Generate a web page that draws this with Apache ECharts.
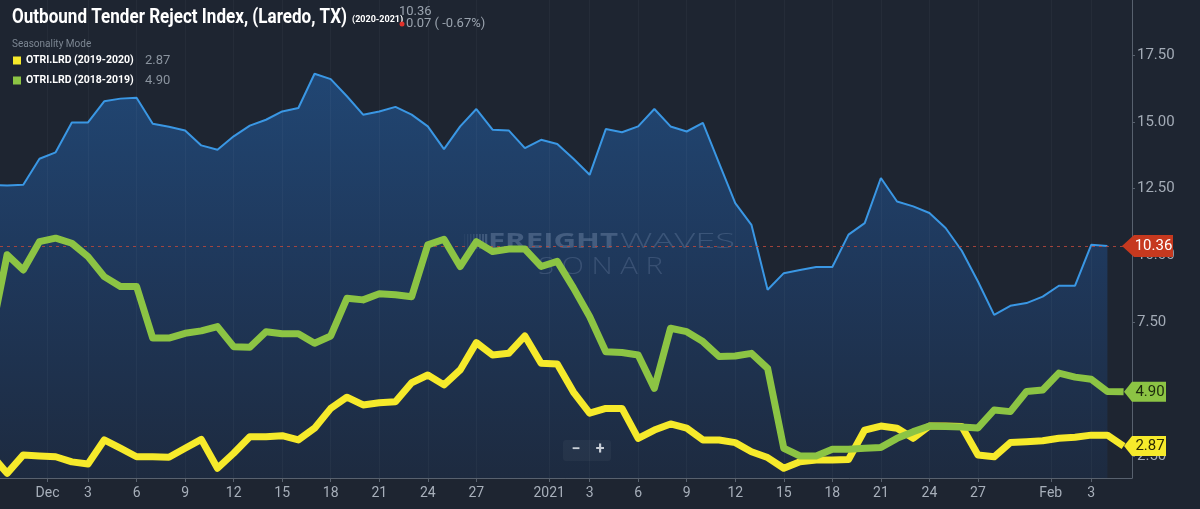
<!DOCTYPE html>
<html lang="en">
<head>
<meta charset="UTF-8">
<title>Outbound Tender Reject Index, (Laredo, TX)</title>
<script src="https://cdn.jsdelivr.net/npm/echarts@6/dist/echarts.min.js"></script>
<style>
	html,body{margin:0;padding:0;background:#1e2531;}
	#main{width:1200px;height:509px;}
</style>
</head>
<body>
<div id="main"></div>
<script type="text/javascript">
// day numbers count from Dec 1 (= 0); the first value is Nov 27
var firstDay = -4;
var tickDays = [-0.5, 2, 5, 8, 11, 14, 17, 20, 23, 26, 30.5, 33, 36, 39, 42, 45, 48, 51, 54, 57, 61.5, 64];
var tickLabels = ['Dec', '3', '6', '9', '12', '15', '18', '21', '24', '27', '2021', '3', '6', '9', '12', '15', '18', '21', '24', '27', 'Feb', '3'];
var yTicks = [2.5, 5, 7.5, 10, 12.5, 15, 17.5];

// OTRI.LRD 2020-2021 (area)
var otri2021 = [12.64, 12.62, 12.65, 13.62, 13.86, 14.98, 14.98, 15.77, 15.87, 15.90,
	14.93, 14.82, 14.68, 14.12, 13.96, 14.46, 14.86, 15.08, 15.39, 15.52,
	16.80, 16.60, 15.96, 15.27, 15.39, 15.56, 15.27, 14.83, 13.98, 14.83,
	15.48, 14.71, 14.68, 14.02, 14.33, 14.17, 13.62, 13.02, 14.73, 14.61,
	14.83, 15.48, 14.83, 14.64, 14.96, 13.46, 11.96, 11.15, 8.72, 9.34,
	9.46, 9.57, 9.57, 10.78, 11.21, 12.90, 12.02, 11.84, 11.59, 11.03,
	10.18, 9.03, 7.78, 8.12, 8.22, 8.46, 8.87, 8.87, 10.40, 10.36];
// OTRI.LRD 2019-2020 (yellow)
var otri1920 = [2.56, 1.85, 2.54, 2.50, 2.47, 2.28, 2.20, 3.10, 2.79, 2.47,
	2.47, 2.45, 2.79, 3.12, 2.04, 2.60, 3.22, 3.22, 3.26, 3.10,
	3.54, 4.28, 4.70, 4.41, 4.49, 4.53, 5.24, 5.53, 5.16, 5.72,
	6.74, 6.28, 6.34, 6.99, 5.97, 5.94, 4.89, 4.10, 4.28, 4.28,
	3.16, 3.47, 3.70, 3.54, 3.10, 3.10, 3.00, 2.66, 2.44, 2.04,
	2.28, 2.35, 2.35, 2.37, 3.47, 3.62, 3.54, 3.16, 3.62, 3.62,
	3.60, 2.54, 2.47, 3.00, 3.03, 3.07, 3.16, 3.20, 3.28, 3.28, 2.87];
// OTRI.LRD 2018-2019 (green)
var otri1819 = [7.00, 10.03, 9.46, 10.52, 10.65, 10.46, 9.96, 9.21, 8.84, 8.84,
	6.91, 6.91, 7.09, 7.18, 7.34, 6.59, 6.57, 7.15, 7.07, 7.07,
	6.72, 6.99, 8.40, 8.34, 8.57, 8.53, 8.46, 10.40, 10.61, 9.59,
	10.52, 10.15, 10.24, 10.24, 9.59, 9.78, 8.79, 7.72, 6.40, 6.37,
	6.28, 5.03, 7.28, 7.15, 6.78, 6.22, 6.24, 6.34, 5.78, 2.79,
	2.50, 2.50, 2.75, 2.75, 2.79, 2.82, 3.16, 3.41, 3.62, 3.60,
	3.58, 3.55, 4.22, 4.16, 4.91, 4.97, 5.60, 5.45, 5.37, 4.91, 4.90];

var name1920 = 'OTRI.LRD (2019-2020)';
var name1819 = 'OTRI.LRD (2018-2019)';
var lastVal = {};
lastVal[name1920] = '2.87';
lastVal[name1819] = '4.90';

function toPairs(arr){
	return arr.map(function(v, i){ return [firstDay + i, v]; });
}

var myChart = echarts.init(document.getElementById('main'), null, {renderer: 'canvas'});
var xMin = -3.44, xMax = 66.52;

var option = {
	backgroundColor: '#1e2531',
	animation: false,
	textStyle: {fontFamily: 'Roboto'},
	grid: {left: 0, right: 68, top: 0, bottom: 31},
	legend: {
		orient: 'vertical',
		left: 13,
		top: 54,
		padding: 0,
		itemWidth: 8,
		itemHeight: 8,
		itemGap: 7,
		icon: 'rect',
		selectedMode: false,
		data: [name1920, name1819],
		formatter: function(name){ return '{n|' + name + '}{v|' + lastVal[name] + '}'; },
		textStyle: {
			rich: {
				n: {color: '#ffffff', fontWeight: 'bold', fontSize: 10.5, width: 119, fontFamily: 'Roboto'},
				v: {color: '#8a939e', fontSize: 13, fontFamily: 'Roboto'}
			}
		}
	},
	xAxis: {
		type: 'value',
		min: xMin,
		max: xMax,
		axisLine: {show: true, onZero: false, lineStyle: {color: '#58616e', width: 1}},
		axisTick: {show: true, customValues: tickDays, length: 4, lineStyle: {color: '#58616e'}},
		axisLabel: {
			customValues: tickDays,
			color: '#a7afba',
			fontSize: 14,
			margin: 8,
			formatter: function(v){ var i = tickDays.indexOf(v); return i < 0 ? '' : tickLabels[i]; }
		},
		splitLine: {show: false}
	},
	yAxis: {
		type: 'value',
		position: 'right',
		min: 1.676,
		max: 19.56,
		axisLine: {show: true, onZero: false, lineStyle: {color: '#58616e', width: 1}},
		axisTick: {show: true, customValues: yTicks, length: 3, lineStyle: {color: '#58616e'}},
		axisLabel: {
			customValues: yTicks,
			color: '#a3abb6',
			fontSize: 15,
			margin: 5,
			formatter: function(v){ return v.toFixed(2); }
		},
		splitLine: {show: false}
	},
	series: [{
		name: 'OTRI.LRD (2020-2021)',
		type: 'line',
		data: toPairs(otri2021),
		symbol: 'none',
		z: 2,
		lineStyle: {color: '#3a97e4', width: 2},
		areaStyle: {
			color: new echarts.graphic.LinearGradient(0, 0, 0, 1, [
				{offset: 0, color: '#22548f'},
				{offset: 0.5, color: '#1f3f6b'},
				{offset: 1, color: '#1d2d46'}
			])
		},
		markLine: {
			silent: true,
			symbol: ['none', 'none'],
			label: {show: false},
			data: [
				{yAxis: 10.36, lineStyle: {color: '#b9483c', type: [3, 4], width: 1, opacity: 0.85}}
			].concat(tickDays.map(function(d){
				return {xAxis: d, lineStyle: {color: 'rgba(255,255,255,0.035)', type: 'solid', width: 1}};
			}))
		}
	}, {
		name: name1920,
		type: 'line',
		data: toPairs(otri1920),
		symbol: 'none',
		z: 5,
		color: '#f6ea2b',
		lineStyle: {color: '#f6ea2b', width: 7, join: 'round'}
	}, {
		name: name1819,
		type: 'line',
		data: toPairs(otri1819),
		symbol: 'none',
		z: 6,
		color: '#8cc444',
		lineStyle: {color: '#8cc444', width: 7, join: 'round'}
	}]
};
myChart.setOption(option);

// header, watermark, zoom buttons and price tags
function fitScale(text, font, w){
	var c = document.createElement('canvas').getContext('2d');
	c.font = font;
	return w / c.measureText(text).width;
}
var titleText = 'Outbound Tender Reject Index, (Laredo, TX)';
var titleFont = 'bold 21px Roboto';
var wmBold = 'bold 21px "Open Sans"';
var wmThin = '300 21px "Open Sans"';
var wmSonar = '300 24px "Open Sans"';

var axisX = myChart.convertToPixel({xAxisIndex: 0}, xMax);
function tag(value, text, fill, color, big){
	var y = myChart.convertToPixel({yAxisIndex: 0}, value);
	var tip = big ? axisX - 10 : axisX - 8;
	var neck = big ? axisX + 2 : axisX;
	var right = big ? axisX + 41 : axisX + 34;
	var h = big ? 11 : 10;
	return [{
		type: 'polygon', z: 20,
		shape: {points: [[tip, y], [neck, y - h], [right, y - h], [right, y + h], [neck, y + h]]},
		style: {fill: fill}
	}, {
		type: 'text', z: 21,
		x: (neck + right) / 2 + (big ? 0 : 1), y: y,
		style: {text: text, fill: color, font: '15px Roboto', align: 'center', verticalAlign: 'middle'}
	}];
}

var graphics = [
	{type: 'text', x: 12, y: 18, scaleX: fitScale(titleText, titleFont, 335), z: 10,
		style: {text: titleText, font: titleFont, fill: '#ffffff', verticalAlign: 'middle'}},
	{type: 'text', x: 352, y: 20, z: 10,
		style: {text: '(2020-2021)', font: 'bold 9px Roboto', fill: '#ffffff', verticalAlign: 'middle'}},
	{type: 'text', x: 399, y: 12, z: 10,
		style: {text: '10.36', font: '13px Roboto', fill: '#9aa3ae', verticalAlign: 'middle'}},
	{type: 'circle', z: 10, shape: {cx: 402, cy: 24, r: 2.5}, style: {fill: '#e0322b'}},
	{type: 'text', x: 406, y: 24, z: 10,
		style: {text: '0.07 ( -0.67%)', font: '13px Roboto', fill: '#9aa3ae', verticalAlign: 'middle'}},
	{type: 'text', x: 12, y: 44, z: 10,
		style: {text: 'Seasonality Mode', font: '10px Roboto', fill: '#7c8692', verticalAlign: 'middle'}},
	// watermark
	{type: 'text', x: 488, y: 242, z: 3, scaleX: fitScale('FREIGHT', wmBold, 130),
		style: {text: 'FREIGHT', font: wmBold, fill: 'rgba(175,195,225,0.26)', verticalAlign: 'middle'}},
	{type: 'text', x: 620, y: 242, z: 3, scaleX: fitScale('WAVES', wmThin, 115),
		style: {text: 'WAVES', font: wmThin, fill: 'rgba(175,195,225,0.2)', verticalAlign: 'middle'}},
	{type: 'text', x: 538, y: 267, z: 3, scaleX: fitScale('S O N A R', wmSonar, 125),
		style: {text: 'S O N A R', font: wmSonar, fill: 'rgba(175,195,225,0.18)', verticalAlign: 'middle'}},
	// zoom control
	{type: 'rect', z: 10, shape: {x: 563, y: 440, width: 48, height: 21, r: 3}, style: {fill: 'rgba(255,255,255,0.04)'}},
	{type: 'text', x: 576, y: 450, z: 11,
		style: {text: '−', font: 'bold 16px Roboto', fill: '#c9cfd7', align: 'center', verticalAlign: 'middle'}},
	{type: 'text', x: 600, y: 450, z: 11,
		style: {text: '+', font: 'bold 16px Roboto', fill: '#c9cfd7', align: 'center', verticalAlign: 'middle'}}
];
// striped logo in front of the watermark
[464, 467, 470, 473, 476, 479, 482, 485].forEach(function(x, i){
	graphics.push({type: 'rect', z: 3, shape: {x: x, y: 234, width: 1.2 + i * 0.15, height: 15},
		style: {fill: 'rgba(175,195,225,' + (0.06 + i * 0.025) + ')'}});
});
graphics = graphics
	.concat(tag(10.36, '10.36', '#c6391f', '#ffffff', true))
	.concat(tag(4.90, '4.90', '#8cc444', '#1c2a0d', false))
	.concat(tag(2.87, '2.87', '#f6ea2b', '#2b2a05', false));

myChart.setOption({graphic: graphics});
</script>
</body>
</html>
